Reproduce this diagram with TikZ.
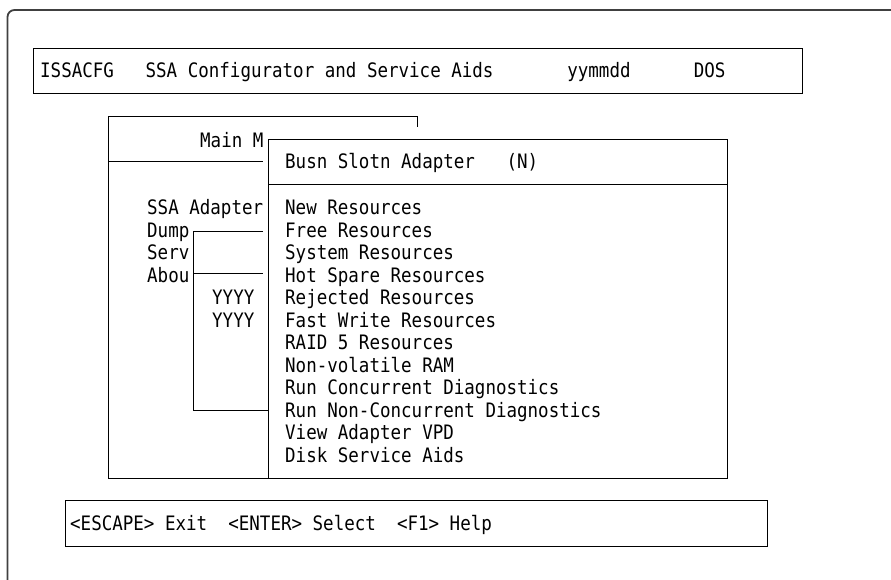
\documentclass[tikz,border=0pt]{standalone}
\usepackage{fontspec}
\newfontfamily\scrfont[FakeStretch=0.88]{DejaVu Sans Mono}
\usetikzlibrary{positioning}

\begin{document}
\begin{tikzpicture}[
    x=1pt, y=-1pt,
    font=\scrfont\fontsize{19.9}{22}\selectfont,
    outer/.style={draw=black!75, line width=1.8pt, rounded corners=7pt},
    box/.style={draw, line width=0.9pt},
    item/.style={anchor=base west, inner sep=0pt}
  ]
    \useasboundingbox (0,0) rectangle (891,580);

    % screen frame
    \draw[outer] (7.5,580) -- (7.5,10) -- (891,10);

    % header line
    \draw[box] (33,48) rectangle (802,93);
    \node[item] (header) at (40,78) {ISSACFG\ \ \ SSA Configurator and Service Aids\ \ \ \ \ \ \ yymmdd\ \ \ \ \ \ DOS};

    % main menu (partly covered)
    \draw[box] (417,127) -- (417,116) -- (108,116) -- (108,478) -- (268,478);
    \draw[box] (108,161) -- (263,161);
    \node[item] (mainmenu) at (200,147.3) {Main M};
    \node[item] (ssa) at (147,214.8) {SSA Adapter};
    \node[item] (dump) at (147,237.3) {Dump};
    \node[item] (serv) at (147,259.8) {Serv};
    \node[item] (abou) at (147,282.3) {Abou};

    % about box (partly covered)
    \draw[box] (263,231) -- (193,231) -- (193,410) -- (268,410);
    \draw[box] (193,273) -- (263,273);
    \node[item] (yyyya) at (212,304.8) {YYYY};
    \node[item] (yyyyb) at (212,327.3) {YYYY};

    % adapter menu
    \draw[box, fill=white] (268,139) rectangle (727,478);
    \draw[box] (268,184) -- (727,184);
    \node[item] (adapter) at (285,169) {Busn Slotn Adapter\ \ \ (N)};
    \foreach \lbl [count=\i from 0] in {New Resources, Free Resources, System Resources,
        Hot Spare Resources, Rejected Resources, Fast Write Resources, RAID 5 Resources,
        Non-volatile RAM, Run Concurrent Diagnostics, Run Non-Concurrent Diagnostics,
        View Adapter VPD, Disk Service Aids} {
      \node[item] (res\i) at (285,214.8+22.5*\i) {\lbl};
    }

    % function keys
    \draw[box] (65.5,500) rectangle (767,546);
    \node[item] (keys) at (70,530.3) {<ESCAPE> Exit\ \ <ENTER> Select\ \ <F1> Help};
  \end{tikzpicture}
\end{document}
